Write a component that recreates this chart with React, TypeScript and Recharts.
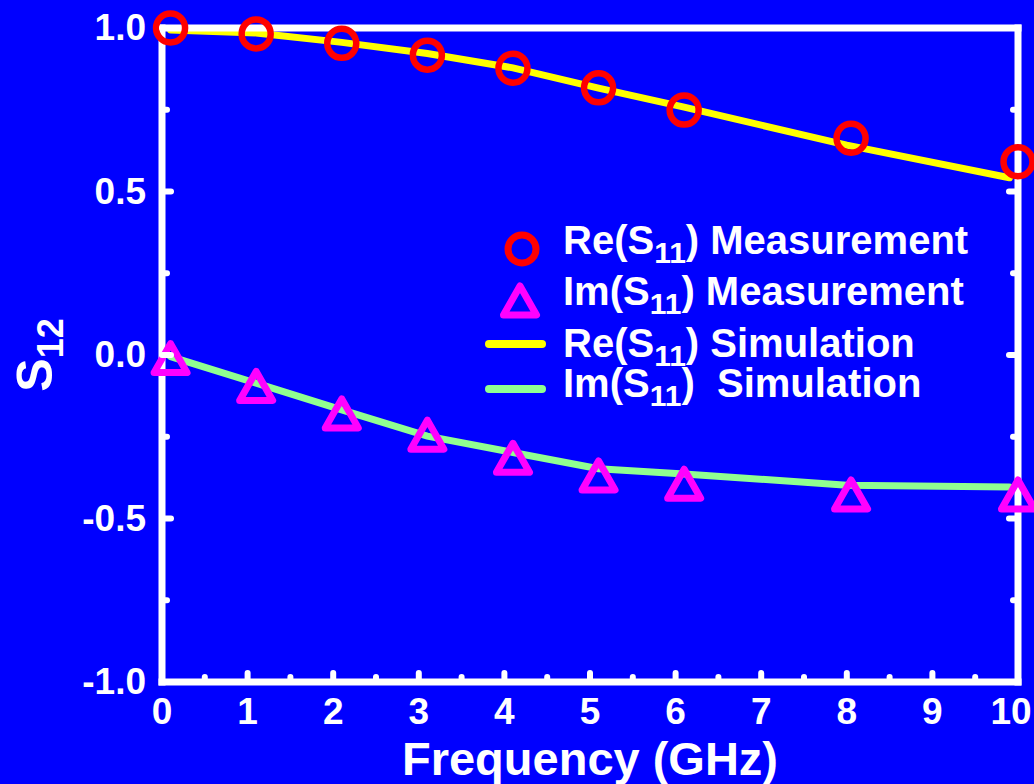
import React from "react";
import { ComposedChart, Line, XAxis, YAxis, Legend } from "recharts";

const W = 1034;
const H = 784;
const FONT = '"Liberation Sans", Arial, Helvetica, sans-serif';
const BLUE = "#0000FF";
const WHITE = "#FFFFFF";
const RED = "#FF0000";
const MAGENTA = "#FF00FF";
const YELLOW = "#FFFF00";
const GREEN = "#90FF90";

// measured points
const measFreq = [0.1, 1.1, 2.1, 3.1, 4.1, 5.1, 6.1, 8.05, 10];
const reMeas = [1.0, 0.982, 0.953, 0.917, 0.877, 0.817, 0.749, 0.663, 0.591];
const imMeas = [-0.008, -0.093, -0.177, -0.242, -0.313, -0.367, -0.392, -0.425, -0.425];

// simulated curves
const simFreq = [0.1, 1.1, 2.1, 3.1, 4.1, 5.1, 6.1, 8.0, 9.9];
const reSim = [0.994, 0.985, 0.956, 0.922, 0.878, 0.816, 0.758, 0.642, 0.542];
const imSim = [-0.005, -0.086, -0.168, -0.248, -0.298, -0.348, -0.364, -0.398, -0.404];

const xTicks = [0, 0.5, 1, 1.5, 2, 2.5, 3, 3.5, 4, 4.5, 5, 5.5, 6, 6.5, 7, 7.5, 8, 8.5, 9, 9.5, 10];
const yTicks = [-1, -0.75, -0.5, -0.25, 0, 0.25, 0.5, 0.75, 1];

const toPoints = (xs: number[], ys: number[]) => xs.map((x, i) => ({ x, y: ys[i] }));

const reMeasData = toPoints(measFreq, reMeas);
const imMeasData = toPoints(measFreq, imMeas);
const reSimData = toPoints(simFreq, reSim);
const imSimData = toPoints(simFreq, imSim);

const axisLine = { stroke: WHITE, strokeWidth: 7, strokeLinecap: "square" as const };
const textStyle = { fontFamily: FONT, fontWeight: 700, fill: WHITE };

const isMajorX = (v: number) => Number.isInteger(v);
const isMajorY = (v: number) => Math.abs(v * 2 - Math.round(v * 2)) < 1e-9;

function Nub({ x1, y1, x2, y2 }: { x1: number; y1: number; x2: number; y2: number }) {
  return <line x1={x1} y1={y1} x2={x2} y2={y2} stroke={WHITE} strokeWidth={6} strokeLinecap="round" />;
}

const BottomTick = (p: any) => {
  const v = p.payload.value;
  const len = isMajorX(v) ? 9 : 5;
  // last label sits a little left so it stays inside the picture
  const tx = v === 10 ? p.x - 7 : p.x;
  return (
    <g>
      <Nub x1={p.x} y1={p.y} x2={p.x} y2={p.y - len} />
      {isMajorX(v) && (
        <text x={tx} y={p.y + 42} textAnchor="middle" fontSize={37} {...textStyle}>
          {v}
        </text>
      )}
    </g>
  );
};

const TopTick = (p: any) => {
  const len = isMajorX(p.payload.value) ? 9 : 5;
  return <Nub x1={p.x} y1={p.y} x2={p.x} y2={p.y + len} />;
};

const LeftTick = (p: any) => {
  const v = p.payload.value;
  const len = isMajorY(v) ? 9 : 5;
  return (
    <g>
      <Nub x1={p.x} y1={p.y} x2={p.x + len} y2={p.y} />
      {isMajorY(v) && (
        <text x={p.x - 16} y={p.y + 12} textAnchor="end" fontSize={37} {...textStyle}>
          {v.toFixed(1)}
        </text>
      )}
    </g>
  );
};

const RightTick = (p: any) => {
  const len = isMajorY(p.payload.value) ? 9 : 5;
  return <Nub x1={p.x} y1={p.y} x2={p.x - len} y2={p.y} />;
};

const xTitle = (props: any) => {
  const vb = props.viewBox;
  return (
    <text x={vb.x + vb.width / 2} y={vb.y + 93} textAnchor="middle" fontSize={47} {...textStyle}>
      Frequency (GHz)
    </text>
  );
};

const yTitle = (props: any) => {
  const vb = props.viewBox;
  const cx = 52;
  const cy = vb.y + vb.height / 2;
  return (
    <text x={cx} y={cy} transform={`rotate(-90 ${cx} ${cy})`} textAnchor="middle" fontSize={50} {...textStyle}>
      S<tspan dy={11} fontSize={36}>12</tspan>
    </text>
  );
};

const RingDot = (p: any) => {
  if (p.cx == null || p.cy == null) return null;
  return <circle key={p.index} cx={p.cx} cy={p.cy} r={14.5} fill="none" stroke={RED} strokeWidth={6.5} />;
};

const triPath = (cx: number, cy: number) =>
  `M${cx},${cy - 14} L${cx + 16.5},${cy + 15} L${cx - 16.5},${cy + 15} Z`;

const TriDot = (p: any) => {
  if (p.cx == null || p.cy == null) return null;
  return (
    <path key={p.index} d={triPath(p.cx, p.cy)} fill="none" stroke={MAGENTA} strokeWidth={7} strokeLinejoin="round" />
  );
};

const legendRows = [
  { kind: "ring", pre: "Re(S", sub: "11", post: ") Measurement" },
  { kind: "tri", pre: "Im(S", sub: "11", post: ") Measurement" },
  { kind: "yline", pre: "Re(S", sub: "11", post: ") Simulation" },
  { kind: "gline", pre: "Im(S", sub: "11", post: ")  Simulation" },
];

const LegendBox = () => {
  const baselines = [39, 90, 142, 182];
  const markY = [34, 85, 129, 174];
  return (
    <svg width={540} height={200} style={{ display: "block" }}>
      {legendRows.map((r, i) => (
        <g key={r.kind}>
          {r.kind === "ring" && <circle cx={42} cy={markY[i]} r={14} fill="none" stroke={RED} strokeWidth={7} />}
          {r.kind === "tri" && (
            <path d={triPath(40, markY[i])} fill="none" stroke={MAGENTA} strokeWidth={7} strokeLinejoin="round" />
          )}
          {r.kind === "yline" && (
            <line x1={9} x2={62} y1={markY[i]} y2={markY[i]} stroke={YELLOW} strokeWidth={8} strokeLinecap="round" />
          )}
          {r.kind === "gline" && (
            <line x1={9} x2={62} y1={markY[i]} y2={markY[i]} stroke={GREEN} strokeWidth={8} strokeLinecap="round" />
          )}
          <text x={83} y={baselines[i]} fontSize={40} style={{ whiteSpace: "pre" }} {...textStyle}>
            {r.pre}
            <tspan dy={9} fontSize={30}>{r.sub}</tspan>
            <tspan dy={-9}>{r.post}</tspan>
          </text>
        </g>
      ))}
    </svg>
  );
};

export default function App() {
  return (
    <div style={{ position: "absolute", left: 0, top: 0, width: W, height: H, background: BLUE }}>
      <ComposedChart width={W} height={H} margin={{ top: 27, right: 0, bottom: 0, left: 0 }}>
        <XAxis
          xAxisId="b"
          dataKey="x"
          type="number"
          domain={[0, 10]}
          ticks={xTicks}
          interval={0}
          height={102}
          tickSize={0}
          tickMargin={0}
          tickLine={false}
          axisLine={axisLine}
          tick={BottomTick}
          label={xTitle}
        />
        <XAxis
          xAxisId="t"
          orientation="top"
          type="number"
          domain={[0, 10]}
          allowDataOverflow
          ticks={xTicks}
          interval={0}
          height={1}
          tickSize={0}
          tickMargin={0}
          tickLine={false}
          axisLine={axisLine}
          tick={TopTick}
        />
        <YAxis
          yAxisId="l"
          type="number"
          domain={[-1, 1]}
          ticks={yTicks}
          interval={0}
          width={162}
          tickSize={0}
          tickMargin={0}
          tickLine={false}
          axisLine={axisLine}
          tick={LeftTick}
          label={yTitle}
        />
        <YAxis
          yAxisId="r"
          orientation="right"
          type="number"
          domain={[-1, 1]}
          allowDataOverflow
          ticks={yTicks}
          interval={0}
          width={16}
          tickSize={0}
          tickMargin={0}
          tickLine={false}
          axisLine={axisLine}
          tick={RightTick}
        />
        <Line xAxisId="b" yAxisId="l" data={reMeasData} dataKey="y" name="Re(S11) Measurement" stroke="none" dot={RingDot} activeDot={false} isAnimationActive={false} />
        <Line xAxisId="b" yAxisId="l" data={imMeasData} dataKey="y" name="Im(S11) Measurement" stroke="none" dot={TriDot} activeDot={false} isAnimationActive={false} />
        <Line xAxisId="b" yAxisId="l" data={reSimData} dataKey="y" name="Re(S11) Simulation" type="linear" stroke={YELLOW} strokeWidth={7} strokeLinecap="round" dot={false} activeDot={false} isAnimationActive={false} />
        <Line xAxisId="b" yAxisId="l" data={imSimData} dataKey="y" name="Im(S11) Simulation" type="linear" stroke={GREEN} strokeWidth={7} strokeLinecap="round" dot={false} activeDot={false} isAnimationActive={false} />
        <Legend
          layout="horizontal"
          verticalAlign="middle"
          align="center"
          content={<LegendBox />}
          wrapperStyle={{ left: 480, top: 215, width: 540, height: 200 }}
        />
      </ComposedChart>
    </div>
  );
}
